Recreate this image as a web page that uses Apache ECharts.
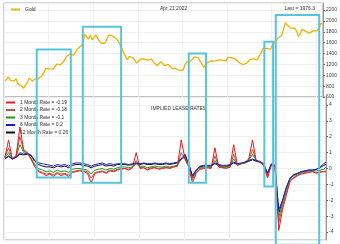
<!DOCTYPE html>
<html>
<head>
<meta charset="utf-8">
<script src="https://cdn.jsdelivr.net/npm/echarts@6/dist/echarts.min.js"></script>
<style>
html, body { margin: 0; padding: 0; background: #fff; }
#chart { width: 340px; height: 244px; }
</style>
</head>
<body>
<div id="chart"></div>
<script>
// gold, monthly from Jan 2008, USD/oz
var goldPrices = [
  889, 922, 968, 909, 889, 890, 939, 839, 829, 806, 760, 816,
  858, 943, 924, 890, 928, 946, 934, 949, 996, 1043, 1127, 1134,
  1118, 1095, 1113, 1148, 1205, 1233, 1193, 1215, 1271, 1342, 1370, 1391,
  1356, 1372, 1424, 1474, 1512, 1529, 1572, 1756, 1772, 1665, 1739, 1652,
  1656, 1742, 1674, 1650, 1585, 1596, 1594, 1630, 1744, 1747, 1721, 1688,
  1671, 1627, 1593, 1487, 1414, 1343, 1286, 1347, 1349, 1316, 1275, 1221,
  1244, 1300, 1336, 1299, 1287, 1279, 1311, 1296, 1239, 1222, 1176, 1201,
  1251, 1227, 1179, 1198, 1199, 1181, 1128, 1117, 1125, 1159, 1086, 1068,
  1097, 1199, 1246, 1242, 1260, 1276, 1337, 1341, 1326, 1267, 1238, 1151,
  1192, 1234, 1231, 1266, 1246, 1260, 1237, 1283, 1315, 1280, 1283, 1265,
  1331, 1331, 1325, 1334, 1303, 1282, 1238, 1202, 1198, 1215, 1220, 1250,
  1291, 1320, 1301, 1286, 1284, 1359, 1413, 1500, 1510, 1495, 1471, 1479,
  1560, 1598, 1591, 1683, 1715, 1732, 1846, 1968, 1921, 1900, 1866, 1858,
  1867, 1808, 1718, 1760, 1850, 1834, 1807, 1785, 1775, 1777, 1821, 1790,
  1817, 1856, 1948, 1950
];

// lease rates (%), every 2 months from Jan 2008 (Jan Mar May Jul Sep Nov)
var rate1m = [
  0.7, 1.8, 0.6, 0.8, 2.6, 1.2,
  1.0, 0.6, 0.1, -0.2, -0.3, -0.45,
  -0.35, -0.5, -0.3, -0.45, -0.35, -0.5,
  -0.25, -0.2, -0.15, -0.2, -0.3, -0.9,
  -0.3, -0.25, -0.2, -0.3, -0.15, -0.2,
  -0.1, -0.05, 0.0, -0.1, 0.05, 1.0,
  0.0, 0.05, -0.1, 0.0, 0.05, -0.05,
  0.0, 0.05, 0.0, 0.1, 0.15, 1.8,
  0.6, 0.1, -0.9, -0.3, -0.05, 0.0,
  0.05, 0.0, 1.3, 0.1, 0.05, 0.0,
  0.1, 1.5, 0.2, 0.3, 0.4, 0.6,
  1.8, 0.5, 0.4, 0.2, -0.6, 0.2,
  0.1, -3.9, -2.6, -1.7, -0.8, -0.6,
  -0.45, -0.35, -0.3, -0.25, -0.2, -0.3,
  -0.25, -0.2, -0.19
];
var rate2m = [
  0.7, 1.3, 0.6, 0.8, 2.0, 1.1,
  0.95, 0.6, 0.15, -0.15, -0.25, -0.35,
  -0.3, -0.4, -0.25, -0.35, -0.3, -0.4,
  -0.2, -0.15, -0.1, -0.15, -0.2, -0.6,
  -0.25, -0.2, -0.15, -0.25, -0.1, -0.15,
  -0.05, 0.0, 0.0, -0.05, 0.05, 0.5,
  0.05, 0.05, -0.05, 0.05, 0.05, 0.0,
  0.05, 0.05, 0.05, 0.1, 0.15, 1.0,
  0.6, 0.15, -0.7, -0.25, 0.0, 0.05,
  0.05, 0.05, 0.8, 0.1, 0.05, 0.05,
  0.1, 0.9, 0.2, 0.3, 0.35, 0.55,
  1.2, 0.5, 0.4, 0.2, -0.5, 0.2,
  0.1, -3.4, -2.4, -1.5, -0.75, -0.55,
  -0.4, -0.3, -0.25, -0.2, -0.2, -0.25,
  -0.2, -0.18, -0.18
];
var rate3m = [
  0.65, 1.0, 0.6, 0.75, 1.5, 1.0,
  0.9, 0.65, 0.25, 0.0, -0.1, -0.2,
  -0.15, -0.25, -0.1, -0.2, -0.15, -0.25,
  -0.05, 0.0, 0.0, -0.05, -0.1, -0.35,
  -0.1, -0.05, 0.0, -0.1, 0.0, -0.05,
  0.05, 0.1, 0.1, 0.05, 0.1, 0.3,
  0.1, 0.15, 0.05, 0.1, 0.15, 0.1,
  0.1, 0.15, 0.1, 0.15, 0.2, 0.6,
  0.7, 0.2, -0.6, -0.15, 0.05, 0.1,
  0.1, 0.1, 0.5, 0.15, 0.1, 0.1,
  0.15, 0.6, 0.25, 0.3, 0.35, 0.5,
  0.9, 0.5, 0.4, 0.25, -0.4, 0.25,
  0.15, -3.1, -2.2, -1.3, -0.65, -0.45,
  -0.35, -0.25, -0.2, -0.15, -0.15, -0.15,
  -0.1, -0.05, 0.1
];
var rate6m = [
  0.6, 0.8, 0.6, 0.7, 1.0, 0.9,
  0.95, 0.85, 0.5, 0.35, 0.3, 0.25,
  0.2, 0.15, 0.25, 0.2, 0.25, 0.15,
  0.3, 0.35, 0.35, 0.3, 0.25, 0.15,
  0.25, 0.3, 0.35, 0.25, 0.3, 0.25,
  0.3, 0.3, 0.3, 0.25, 0.3, 0.35,
  0.3, 0.35, 0.3, 0.3, 0.35, 0.3,
  0.3, 0.35, 0.3, 0.35, 0.4, 0.6,
  0.9, 0.3, -0.5, -0.1, 0.15, 0.2,
  0.2, 0.2, 0.35, 0.25, 0.2, 0.2,
  0.25, 0.4, 0.3, 0.35, 0.4, 0.5,
  0.6, 0.5, 0.45, 0.3, -0.3, 0.3,
  0.2, -2.6, -2.0, -1.2, -0.6, -0.4,
  -0.3, -0.2, -0.15, -0.1, -0.1, -0.05,
  0.1, 0.3, 0.4
];
var rate12m = [
  0.6, 0.75, 0.6, 0.7, 0.9, 0.85,
  0.9, 0.8, 0.45, 0.25, 0.15, 0.1,
  0.1, 0.05, 0.15, 0.1, 0.15, 0.05,
  0.2, 0.25, 0.25, 0.2, 0.15, 0.05,
  0.15, 0.2, 0.25, 0.15, 0.2, 0.15,
  0.25, 0.25, 0.25, 0.2, 0.25, 0.3,
  0.25, 0.3, 0.25, 0.25, 0.3, 0.25,
  0.25, 0.3, 0.25, 0.3, 0.35, 0.55,
  0.8, 0.25, -0.45, -0.1, 0.1, 0.15,
  0.15, 0.15, 0.3, 0.2, 0.15, 0.15,
  0.2, 0.35, 0.25, 0.3, 0.35, 0.45,
  0.55, 0.45, 0.4, 0.25, -0.3, 0.25,
  0.15, -2.8, -2.1, -1.25, -0.6, -0.4,
  -0.3, -0.2, -0.15, -0.1, -0.1, -0.05,
  0.05, 0.2, 0.26
];

var rateNames = ['1 Month Rate = -0.19', '2 Month Rate = -0.18', '3 Month Rate = -0.1',
                 '6 Month Rate = 0.2', '12 Month Rate = 0.26'];
var rateColors = ['#e3201b', '#b5544a', '#1f9a1f', '#1c1cc8', '#111111'];

// highlighted periods: start, end, top (gold), bottom (lease %)
var boxStart = ['2009-06-20', '2011-07-15', '2016-04-15', '2019-09-05', '2020-03-10'];
var boxEnd = ['2010-12-20', '2013-03-15', '2016-12-20', '2019-12-15', '2022-01-01'];
var boxTop = [1473, 1891, 1400, 1618, 2109];
var boxBottom = [-0.57, -0.89, -0.89, -1.14, -4.8];

var chart = echarts.init(document.getElementById('chart'));

function monthDate(i, step) {
    var m = i * step;
    var y = 2008 + Math.floor(m / 12);
    var mm = (m % 12) + 1;
    return y + '-' + (mm < 10 ? '0' + mm : mm) + '-15';
}

function goldData() {
    var out = [];
    for (var i = 0; i < goldPrices.length; i++) {
        var d = i == goldPrices.length - 1 ? '2022-04-21' : monthDate(i, 1);
        out.push([d, goldPrices[i]]);
    }
    return out;
}

function rateData(arr) {
    var out = [];
    for (var i = 0; i < arr.length; i++) {
        var d = i == arr.length - 1 ? '2022-04-21' : monthDate(i, 2);
        out.push([d, arr[i]]);
    }
    return out;
}

var font = 'Liberation Sans';
var txt = { fontSize: 5, color: '#333', fontFamily: font, fontWeight: 'normal' };

var rateArrays = [rate1m, rate2m, rate3m, rate6m, rate12m];
var drawOrder = [4, 2, 1, 0, 3];
var series = [{
    name: 'Gold', type: 'line', xAxisIndex: 0, yAxisIndex: 0,
    data: goldData(), showSymbol: false,
    lineStyle: { color: '#f2b400', width: 1.3 }, itemStyle: { color: '#f2b400' }
}];
drawOrder.forEach(function (k) {
    series.push({
        name: rateNames[k], type: 'line', xAxisIndex: 1, yAxisIndex: 1,
        data: rateData(rateArrays[k]), showSymbol: false,
        lineStyle: { color: rateColors[k], width: 1 }, itemStyle: { color: rateColors[k] }
    });
});

var xBase = {
    type: 'time', min: '2008-01-01', max: '2022-04-21',
    axisLabel: { show: false }, axisTick: { show: false },
    axisLine: { show: false },
    splitLine: { show: true, lineStyle: { color: '#f0f0f0', width: 1 } }
};

var yBase = {
    type: 'value', position: 'right', scale: true,
    axisLine: { show: true, lineStyle: { color: '#999' } },
    axisTick: { show: true, length: 2, lineStyle: { color: '#666' } },
    axisLabel: { fontSize: 5, color: '#444', fontFamily: font, margin: 3, showMaxLabel: false,
                 formatter: function (v) { return String(v); } },
    splitLine: { show: true, lineStyle: { color: '#f0f0f0' } }
};

var option = {
    animation: false,
    backgroundColor: '#fff',
    title: [
        { text: 'Apr 21 2022', left: 155, top: 1, textStyle: txt },
        { text: 'Last = 1976.3', right: 20, top: 1, textStyle: txt },
        { text: 'IMPLIED LEASE RATES', left: 146, top: 101, textStyle: txt }
    ],
    legend: [
        { data: ['Gold'], left: 6, top: 2, itemWidth: 9, itemHeight: 2, icon: 'rect',
          textStyle: txt, itemGap: 2 },
        { data: rateNames, orient: 'vertical', left: 6, top: 100, itemWidth: 9, itemHeight: 2,
          icon: 'rect', textStyle: txt, itemGap: 2.5, padding: 0 }
    ],
    grid: [
        { left: 4, right: 14, top: 3, height: 94, show: true, borderColor: '#aaa', borderWidth: 1 },
        { left: 4, right: 14, top: 97, height: 143, show: true, borderColor: '#aaa', borderWidth: 1 }
    ],
    xAxis: [
        Object.assign({ gridIndex: 0 }, xBase),
        Object.assign({ gridIndex: 1 }, xBase)
    ],
    yAxis: [
        Object.assign({}, yBase, { gridIndex: 0, min: 600, max: 2330, interval: 200 }),
        Object.assign({}, yBase, { gridIndex: 1, min: -4.5, max: 4.5, splitNumber: 9,
            axisLabel: Object.assign({}, yBase.axisLabel, { showMinLabel: false }) })
    ],
    series: series
};

chart.setOption(option);

// outline boxes spanning both panels
var rects = [];
for (var i = 0; i < boxStart.length; i++) {
    var p1 = chart.convertToPixel({ xAxisIndex: 0, yAxisIndex: 0 }, [boxStart[i], boxTop[i]]);
    var p2 = chart.convertToPixel({ xAxisIndex: 1, yAxisIndex: 1 }, [boxEnd[i], boxBottom[i]]);
    rects.push({
        type: 'rect', z: 100,
        shape: { x: p1[0], y: p1[1], width: p2[0] - p1[0], height: p2[1] - p1[1] },
        style: { fill: null, stroke: '#57c4dc', lineWidth: 2 }
    });
}
chart.setOption({ graphic: rects });
</script>
</body>
</html>
